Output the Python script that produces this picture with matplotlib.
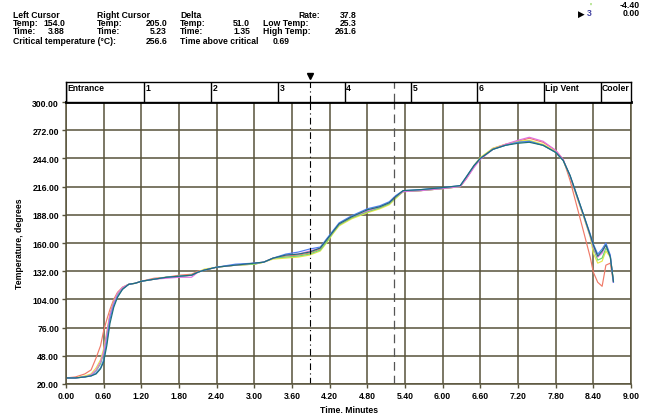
import matplotlib
matplotlib.use("Agg")
import matplotlib.pyplot as plt
import numpy as np

# Datos
t_min = [0.00, 0.15, 0.30, 0.40, 0.48, 0.55, 0.60, 0.65, 0.70, 0.76,
         0.82, 0.90, 1.00, 1.10, 1.20, 1.40, 1.60, 1.80, 2.00, 2.10,
         2.20, 2.40, 2.70, 3.00, 3.15, 3.30, 3.50, 3.70, 3.88, 4.05,
         4.15, 4.25, 4.35, 4.55, 4.80, 5.00, 5.15, 5.25, 5.37, 5.65,
         6.00, 6.28, 6.38, 6.50, 6.60, 6.80, 7.00, 7.20, 7.38, 7.60,
         7.80, 7.92, 8.03, 8.14, 8.25, 8.35, 8.40, 8.47, 8.54, 8.60,
         8.67, 8.72]

temp_red = [26, 27, 30, 34, 46, 58, 73, 84, 94, 104,
            111, 116, 119, 120, 122, 125, 126, 128, 129, 132,
            133, 136, 138, 139, 141, 145, 147, 148, 150, 154,
            163, 171, 178, 185, 191, 195, 199, 206, 211, 212,
            214, 216, 224, 236, 244, 254, 258, 261, 264, 260,
            252, 243, 222, 196, 170, 146, 131, 121, 117, 138,
            140, 121]
temp_yellow = [26, 26, 28, 30, 36, 44, 55, 72, 90, 102,
               110, 116, 119, 120, 122, 124, 126, 127, 128, 131,
               134, 136, 138, 139, 141, 144, 145, 146, 148, 152,
               160, 169, 177, 184, 190, 194, 198, 204, 211, 212,
               214, 216, 225, 237, 245, 254, 258, 261, 262, 258,
               251, 242, 226, 205, 185, 166, 150, 140, 142, 152,
               146, 122]
temp_green = [26, 26, 27, 29, 33, 40, 50, 68, 88, 101,
              109, 115, 119, 120, 122, 124, 126, 127, 128, 131,
              133, 136, 138, 139, 141, 145, 146, 147, 149, 153,
              161, 170, 178, 185, 191, 195, 199, 205, 211, 212,
              214, 216, 225, 236, 244, 253, 257, 260, 261, 257,
              250, 242, 226, 206, 186, 167, 155, 143, 145, 155,
              147, 122]
temp_magenta = [26, 26, 27, 29, 34, 42, 52, 70, 89, 101,
                110, 116, 119, 120, 122, 124, 125, 126, 126, 131,
                133, 136, 138, 140, 141, 145, 148, 149, 152, 155,
                163, 171, 179, 186, 192, 196, 200, 206, 211, 212,
                214, 216, 224, 235, 243, 253, 258, 262, 265, 261,
                252, 243, 226, 206, 186, 167, 156, 146, 150, 158,
                147, 121]
temp_blue = [26, 26, 27, 28, 31, 36, 44, 62, 84, 98,
             107, 114, 119, 120, 122, 124, 126, 127, 128, 131,
             133, 136, 139, 140, 141, 145, 149, 151, 154, 156,
             164, 172, 180, 187, 194, 197, 201, 207, 212, 213,
             215, 217, 226, 237, 244, 253, 257, 260, 261, 257,
             250, 242, 227, 207, 187, 169, 159, 149, 154, 160,
             148, 121]
temp_teal = [26, 26, 27, 28, 30, 35, 42, 58, 80, 96,
             106, 114, 119, 120, 122, 124, 126, 127, 128, 131,
             133, 136, 138, 140, 141, 145, 148, 149, 151, 155,
             163, 171, 179, 186, 193, 196, 200, 206, 212, 213,
             215, 217, 226, 237, 244, 253, 257, 259, 260, 257,
             250, 242, 227, 207, 187, 168, 158, 147, 152, 158,
             146, 122]

series = [(temp_red, '#f07a68'), (temp_yellow, '#e6e64a'), (temp_green, '#6fd46f'),
          (temp_magenta, '#e070e0'), (temp_blue, '#4f7ff0'), (temp_teal, '#1f6f78')]

zonas = ['Entrance', '1', '2', '3', '4', '5', '6', 'Lip Vent', 'Cooler']
zona_inicio = [0.0, 1.24, 2.31, 3.38, 4.44, 5.50, 6.55, 7.61, 8.52]
x_ticks = [0.0, 0.6, 1.2, 1.8, 2.4, 3.0, 3.6, 4.2, 4.8, 5.4, 6.0, 6.6, 7.2, 7.8, 8.4, 9.0]
y_ticks = [20, 48, 76, 104, 132, 160, 188, 216, 244, 272, 300]
cursor_izq = 3.88
cursor_der = 5.23

W, H = 652, 414
fuente = 'Liberation Sans'
fs = 6.2
grid_col = '#57523a'

fig = plt.figure(figsize=(W / 100, H / 100), dpi=100)

# Metodo para pasar de pixeles a coordenadas de figura
def px(x, y):
    return x / W, 1 - y / H

def texto(x, y, s, ha='left', color='black', family=fuente):
    fx, fy = px(x, y)
    fig.text(fx, fy, s, ha=ha, va='center', fontsize=fs, fontweight='bold',
             family=family, color=color)

# Cabecera de cursores
texto(13, 16, 'Left Cursor'); texto(97, 16, 'Right Cursor'); texto(180, 16, 'Delta')
texto(320, 16, 'Rate:', ha='right'); texto(357, 16, '37.8', ha='right')
texto(13, 24, 'Temp:'); texto(65, 24, '154.0', ha='right')
texto(97, 24, 'Temp:'); texto(167, 24, '205.0', ha='right')
texto(180, 24, 'Temp:'); texto(250, 24, '51.0', ha='right')
texto(263, 24, 'Low Temp:'); texto(357, 24, '25.3', ha='right')
texto(13, 32, 'Time:'); texto(65, 32, '3.88', ha='right')
texto(97, 32, 'Time:'); texto(167, 32, '5.23', ha='right')
texto(180, 32, 'Time:'); texto(250, 32, '1.35', ha='right')
texto(263, 32, 'High Temp:'); texto(357, 32, '261.6', ha='right')
texto(13, 41, 'Critical temperature (°C):'); texto(167, 41, '256.6', ha='right')
texto(180, 41, 'Time above critical'); texto(290, 41, '0.69', ha='right')
texto(640, 5, '-4.40', ha='right')
texto(589, 6, "'", color='#7fd040')
texto(578, 14, '▶', family='DejaVu Sans')
texto(587, 14, '3', color='#4040a0')
texto(640, 14, '0.00', ha='right')

# Eje principal
l, b = px(66, 385)
r, tp = px(631, 103)
ax = fig.add_axes([l, b, r - l, tp - b])
for vals, col in series:
    ax.plot(t_min, vals, color=col, lw=0.85)
ax.set_xlim(0, 9)
ax.set_ylim(20, 300)
ax.set_xticks(x_ticks)
ax.set_xticklabels(['%.2f' % v for v in x_ticks])
ax.set_yticks(y_ticks)
ax.set_yticklabels(['%.2f' % v for v in y_ticks])
ax.grid(True, color=grid_col, lw=1.1)
ax.tick_params(length=3, width=1, color=grid_col, pad=2, labelsize=fs)
for lab in ax.get_xticklabels() + ax.get_yticklabels():
    lab.set_fontweight('bold')
    lab.set_family(fuente)
for sp in ax.spines.values():
    sp.set_color(grid_col)
    sp.set_linewidth(1.1)
ax.spines['top'].set_color('black')
ax.spines['top'].set_linewidth(2)
ax.set_xlabel('Time, Minutes', fontsize=fs, fontweight='bold', family=fuente, labelpad=3)
ax.set_ylabel('Temperature, degrees', fontsize=fs, fontweight='bold', family=fuente, labelpad=6)

# Cursores
ax.axvline(cursor_izq, color='black', lw=0.8, ls=(0, (6, 3, 1, 3)))
ax.axvline(cursor_der, color='#555555', lw=0.9, ls=(0, (7, 4)))

# Banda de zonas
_, hb = px(0, 83)
axz = fig.add_axes([l, tp, r - l, hb - tp])
axz.set_xlim(0, 9)
axz.set_ylim(0, 1)
axz.set_xticks([])
axz.set_yticks([])
for sp in axz.spines.values():
    sp.set_color('black')
    sp.set_linewidth(1)
for z, x0 in zip(zonas, zona_inicio):
    axz.axvline(x0, color='black', lw=1)
    axz.text(x0 + 0.02, 0.72, z, fontsize=fs, fontweight='bold', family=fuente, va='center')
axz.axvline(cursor_izq, color='black', lw=0.8, ls=(0, (6, 3, 1, 3)))
axz.axvline(cursor_der, color='#555555', lw=0.9, ls=(0, (7, 4)))
axz.plot([cursor_izq], [1.3], marker='v', color='black', ms=4, clip_on=False)

fig.savefig('out.png', dpi=100)
